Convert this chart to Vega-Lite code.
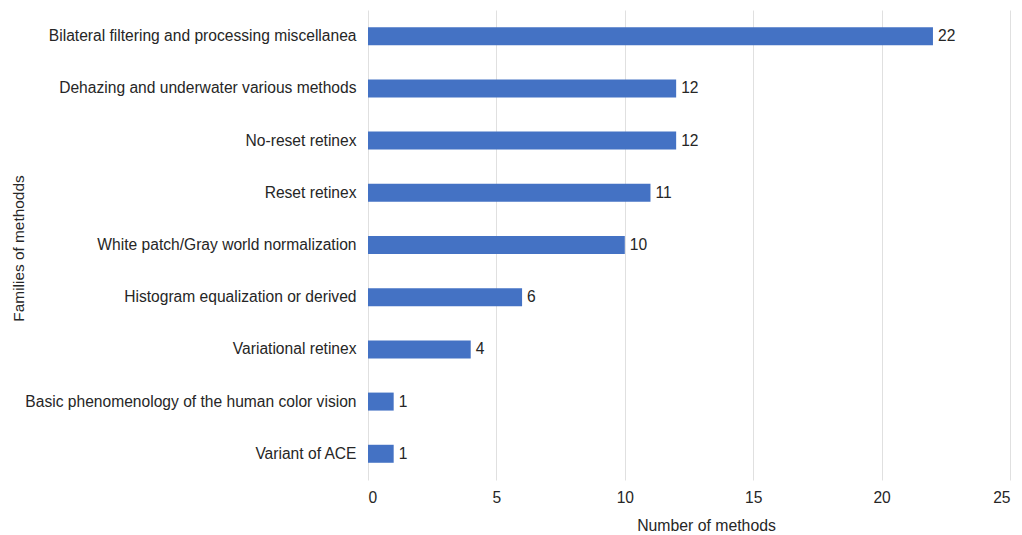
{
  "$schema": "https://vega.github.io/schema/vega-lite/v6.json",
  "width": 642,
  "height": 470,
  "autosize": "none",
  "padding": {"left": 368, "top": 10, "right": 12, "bottom": 55},
  "background": "white",
  "config": {
    "view": {"stroke": null},
    "font": "Liberation Sans",
    "text": {"font": "Liberation Sans"}
  },
  "data": {
    "values": [
      {"family": "Bilateral filtering and processing miscellanea", "count": 22},
      {"family": "Dehazing and underwater various methods", "count": 12},
      {"family": "No-reset retinex", "count": 12},
      {"family": "Reset retinex", "count": 11},
      {"family": "White patch/Gray world normalization", "count": 10},
      {"family": "Histogram equalization or derived", "count": 6},
      {"family": "Variational retinex", "count": 4},
      {"family": "Basic phenomenology of the human color vision", "count": 1},
      {"family": "Variant of ACE", "count": 1}
    ]
  },
  "encoding": {
    "y": {
      "field": "family",
      "type": "nominal",
      "sort": null,
      "scale": {"paddingInner": 0.655, "paddingOuter": 0.33},
      "axis": {
        "title": "Families of methodds",
        "titleFont": "Liberation Sans",
        "titleFontSize": 15.4,
        "titleFontWeight": "normal",
        "titleColor": "#262626",
        "titleAngle": -90,
        "titleX": -350,
        "titleY": 238,
        "titleAlign": "center",
        "titleBaseline": "middle",
        "labelFont": "Liberation Sans",
        "labelFontSize": 15.6,
        "labelColor": "#262626",
        "labelPadding": 12,
        "labelLimit": 400,
        "domain": false,
        "ticks": false,
        "grid": false
      }
    },
    "x": {
      "field": "count",
      "type": "quantitative",
      "scale": {"domain": [0, 25]},
      "axis": {
        "title": "Number of methods",
        "titleFont": "Liberation Sans",
        "titleFontSize": 15.8,
        "titleFontWeight": "normal",
        "titleColor": "#262626",
        "titleX": 338,
        "titleY": 45,
        "titleAlign": "center",
        "titleBaseline": "middle",
        "labelFont": "Liberation Sans",
        "labelFontSize": 15.6,
        "labelColor": "#262626",
        "labelPadding": 10,
        "values": [0, 5, 10, 15, 20, 25],
        "domain": false,
        "ticks": false,
        "grid": true,
        "gridColor": "#e0e0e0",
        "gridWidth": 1
      }
    }
  },
  "layer": [
    {"mark": {"type": "bar", "color": "#4472c4", "size": 18}},
    {
      "mark": {"type": "text", "align": "left", "dx": 5, "fontSize": 15.6, "color": "#262626", "font": "Liberation Sans"},
      "encoding": {"text": {"field": "count", "type": "quantitative"}}
    }
  ]
}
